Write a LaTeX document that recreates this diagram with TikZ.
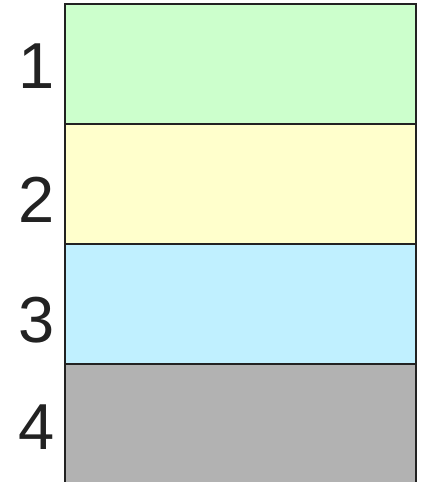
\documentclass[tikz,border=0pt]{standalone}
\usepackage{fontspec}
\setmainfont{Liberation Sans}
\usetikzlibrary{positioning}
\definecolor{bandgreen}{HTML}{CCFFCC}
\definecolor{bandyellow}{HTML}{FFFFCC}
\definecolor{bandcyan}{HTML}{C0F0FF}
\definecolor{bandgray}{HTML}{B2B2B2}
\definecolor{edgegray}{HTML}{222222}

\begin{document}
\begin{tikzpicture}[x=1pt, y=1pt,
        band/.style={rectangle, draw=edgegray, line width=2pt, minimum width=351pt, minimum height=120pt, inner sep=0pt, outer sep=0pt},
        num/.style={font=\fontsize{65}{78}\selectfont, text=edgegray, inner sep=0pt}
    ]
        \useasboundingbox (0,0) rectangle (423,-482);

        \node[band, fill=bandgreen, anchor=north west] (L1) at (65,-4) {};
        \node[band, fill=bandyellow, below=0pt of L1] (L2) {};
        \node[band, fill=bandcyan, below=0pt of L2] (L3) {};
        \node[band, fill=bandgray, below=0pt of L3] (L4) {};

        \node[num] (N1) at (37,-66) {1};
        \node[num] (N2) at (37,-200) {2};
        \node[num] (N3) at (37,-320) {3};
        \node[num] (N4) at (37,-427) {4};
    \end{tikzpicture}
\end{document}
